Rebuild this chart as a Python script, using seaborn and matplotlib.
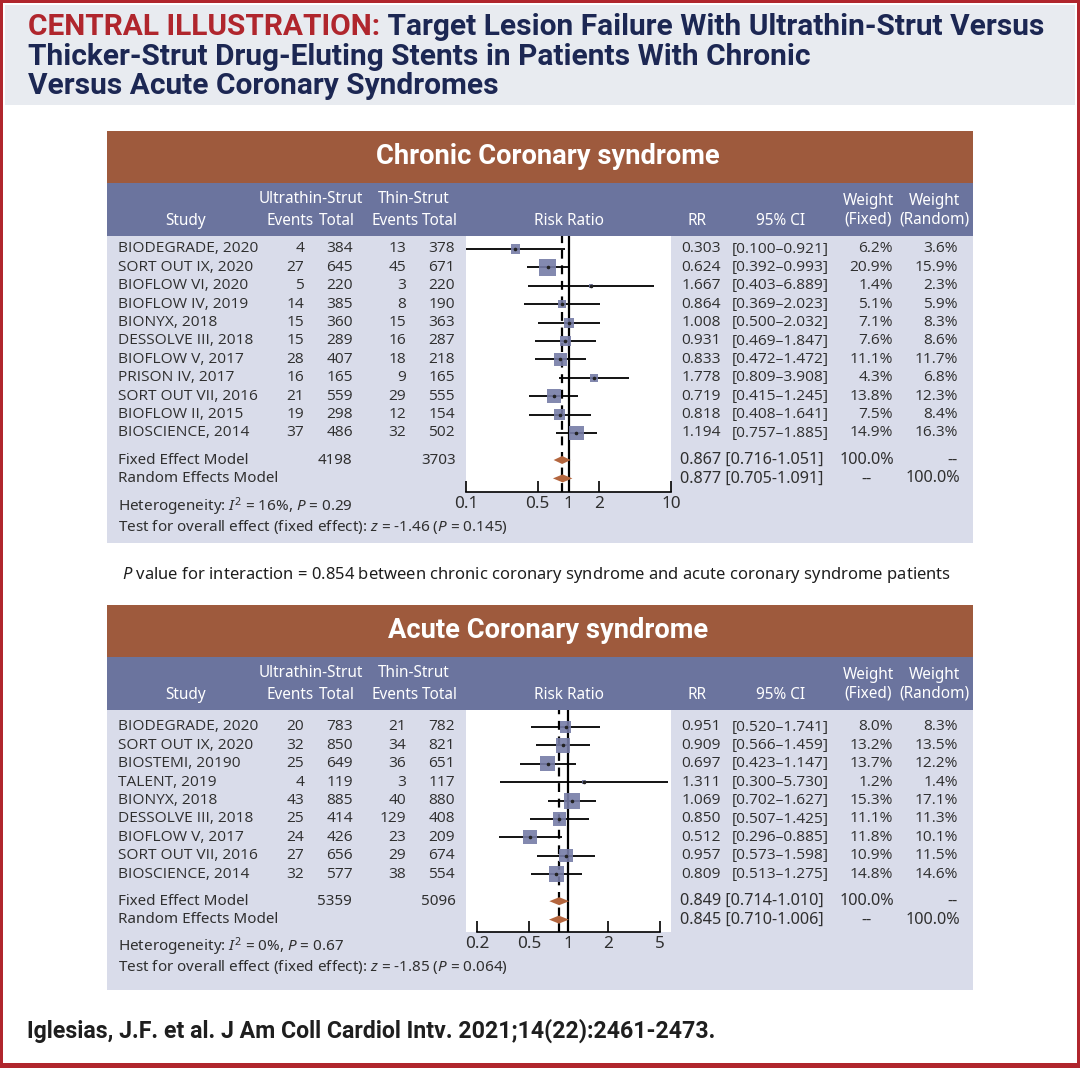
import numpy as np
import pandas as pd
import seaborn as sns
import matplotlib.pyplot as plt
from matplotlib.patches import Rectangle, Polygon
from matplotlib.ticker import NullLocator

# ---- Chronic coronary syndrome data
ccs_study = ['BIODEGRADE, 2020', 'SORT OUT IX, 2020', 'BIOFLOW VI, 2020', 'BIOFLOW IV, 2019',
             'BIONYX, 2018', 'DESSOLVE III, 2018', 'BIOFLOW V, 2017', 'PRISON IV, 2017',
             'SORT OUT VII, 2016', 'BIOFLOW II, 2015', 'BIOSCIENCE, 2014']
ccs_ev_ultra = [4, 27, 5, 14, 15, 15, 28, 16, 21, 19, 37]
ccs_n_ultra = [384, 645, 220, 385, 360, 289, 407, 165, 559, 298, 486]
ccs_ev_thin = [13, 45, 3, 8, 15, 16, 18, 9, 29, 12, 32]
ccs_n_thin = [378, 671, 220, 190, 363, 287, 218, 165, 555, 154, 502]
ccs_rr = [0.303, 0.624, 1.667, 0.864, 1.008, 0.931, 0.833, 1.778, 0.719, 0.818, 1.194]
ccs_lo = [0.100, 0.392, 0.403, 0.369, 0.500, 0.469, 0.472, 0.809, 0.415, 0.408, 0.757]
ccs_hi = [0.921, 0.993, 6.889, 2.023, 2.032, 1.847, 1.472, 3.908, 1.245, 1.641, 1.885]
ccs_w_fixed = [6.2, 20.9, 1.4, 5.1, 7.1, 7.6, 11.1, 4.3, 13.8, 7.5, 14.9]
ccs_w_random = [3.6, 15.9, 2.3, 5.9, 8.3, 8.6, 11.7, 6.8, 12.3, 8.4, 16.3]
ccs_fixed = [0.867, 0.716, 1.051]
ccs_random = [0.877, 0.705, 1.091]
ccs_totals = [4198, 3703]
ccs_ticks = [0.1, 0.5, 1, 2, 10]
ccs_het = r"Heterogeneity: $I^2$ = 16%, $P$ = 0.29"
ccs_test = r"Test for overall effect (fixed effect): $z$ = -1.46 ($P$ = 0.145)"

# ---- Acute coronary syndrome data
acs_study = ['BIODEGRADE, 2020', 'SORT OUT IX, 2020', 'BIOSTEMI, 20190', 'TALENT, 2019',
             'BIONYX, 2018', 'DESSOLVE III, 2018', 'BIOFLOW V, 2017', 'SORT OUT VII, 2016',
             'BIOSCIENCE, 2014']
acs_ev_ultra = [20, 32, 25, 4, 43, 25, 24, 27, 32]
acs_n_ultra = [783, 850, 649, 119, 885, 414, 426, 656, 577]
acs_ev_thin = [21, 34, 36, 3, 40, 129, 23, 29, 38]
acs_n_thin = [782, 821, 651, 117, 880, 408, 209, 674, 554]
acs_rr = [0.951, 0.909, 0.697, 1.311, 1.069, 0.850, 0.512, 0.957, 0.809]
acs_lo = [0.520, 0.566, 0.423, 0.300, 0.702, 0.507, 0.296, 0.573, 0.513]
acs_hi = [1.741, 1.459, 1.147, 5.730, 1.627, 1.425, 0.885, 1.598, 1.275]
acs_w_fixed = [8.0, 13.2, 13.7, 1.2, 15.3, 11.1, 11.8, 10.9, 14.8]
acs_w_random = [8.3, 13.5, 12.2, 1.4, 17.1, 11.3, 10.1, 11.5, 14.6]
acs_fixed = [0.849, 0.714, 1.010]
acs_random = [0.845, 0.710, 1.006]
acs_totals = [5359, 5096]
acs_ticks = [0.2, 0.5, 1, 2, 5]
acs_het = r"Heterogeneity: $I^2$ = 0%, $P$ = 0.67"
acs_test = r"Test for overall effect (fixed effect): $z$ = -1.85 ($P$ = 0.064)"

# colours
RED = '#B0262D'
NAVY = '#1C2753'
BROWN = '#9E5A3D'
BLUE = '#6B749E'
BODY = '#D9DCEA'
TXT = '#2F2F2F'
SQ = '#767CA6'
DIA = '#B4663E'

sns.set_theme(style='white')
plt.rcParams['font.family'] = ['Noto Sans', 'DejaVu Sans']
plt.rcParams['font.stretch'] = 'condensed'
plt.rcParams['mathtext.fontset'] = 'custom'
plt.rcParams['mathtext.rm'] = 'Noto Sans:stretch=condensed'
plt.rcParams['mathtext.it'] = 'Noto Sans:italic:stretch=condensed'
ROWFONT = dict(family=['Open Sans', 'DejaVu Sans'], fontstretch='normal')
BOLD = dict(family=['Roboto', 'DejaVu Sans'], fontstretch='normal', fontweight='bold')

W, H = 1080, 1068
fig = plt.figure(figsize=(W / 100, H / 100), dpi=100)
bg = fig.add_axes([0, 0, 1, 1])
bg.set_xlim(0, W)
bg.set_ylim(H, 0)
bg.axis('off')
renderer = fig.canvas.get_renderer()


def fit(s, target, size=12, **kw):
    # font size that makes the text span the width seen in the reference
    t = bg.text(0, 0, s, fontsize=size, **kw)
    w = t.get_window_extent(renderer).width
    t.remove()
    return size * target / w


def rect(x0, y0, x1, y1, color):
    bg.add_patch(Rectangle((x0, y0), x1 - x0, y1 - y0, color=color, lw=0))


# frame and title band
rect(0, 0, W, 3, RED)
rect(0, 0, 3, H, RED)
rect(W - 3, 0, W, H, RED)
rect(0, H - 5, W, H, RED)
rect(5, 5, W - 5, 105, '#E8EBF0')

title_red = 'CENTRAL ILLUSTRATION:'
title_1 = ' Target Lesion Failure With Ultrathin-Strut Versus'
fs_title = fit(title_red + title_1, 1015, 20, **BOLD)
t1 = bg.text(28, 27, title_red, color=RED, fontsize=fs_title, va='center', ha='left', **BOLD)
x_end = t1.get_window_extent(renderer).x1
bg.text(x_end, 27, title_1, color=NAVY, fontsize=fs_title, va='center', ha='left', **BOLD)
bg.text(28, 57, 'Thicker-Strut Drug-Eluting Stents in Patients With Chronic', color=NAVY,
        fontsize=fs_title, va='center', ha='left', **BOLD)
bg.text(28, 86, 'Versus Acute Coronary Syndromes', color=NAVY,
        fontsize=fs_title, va='center', ha='left', **BOLD)

PX0, PX1 = 107, 973
fs_band = fit('Chronic Coronary syndrome', 343, 20, **BOLD)
fs_head = fit('Ultrathin-Strut', 104)
fs_row = fit('BIODEGRADE, 2020', 140, 10, **ROWFONT)
fs_sum = fit('Fixed Effect Model', 130)
fs_num = fit('0.867 [0.716-1.051]', 145)
fs_test = fit(ccs_test, 390)


def panel(title, top, body_bottom, row0, axis_y, xlim, ticks, bounds,
          study, ev_u, n_u, ev_t, n_t, rr, lo, hi, wf, wr, fixed, random, totals,
          het, test, k):
    blue_top = top + 52
    body_top = blue_top + 53
    rect(PX0, top, PX1, blue_top, BROWN)
    rect(PX0, blue_top, PX1, body_top, BLUE)
    rect(PX0, body_top, PX1, body_bottom, BODY)
    bg.text(548, (top + blue_top) / 2, title, color='white', fontsize=fs_band,
            ha='center', va='center', **BOLD)

    h1, h2 = blue_top + 16, blue_top + 38
    hk = dict(color='white', fontsize=fs_head, va='center', ha='center')
    bg.text(186, h2, 'Study', **hk)
    bg.text(311, h1, 'Ultrathin-Strut', **hk)
    bg.text(290, h2, 'Events', **hk)
    bg.text(337, h2, 'Total', **hk)
    bg.text(414, h1, 'Thin-Strut', **hk)
    bg.text(395, h2, 'Events', **hk)
    bg.text(440, h2, 'Total', **hk)
    bg.text(569, h2, 'Risk Ratio', **hk)
    bg.text(697, h2, 'RR', **hk)
    bg.text(781, h2, '95% CI', **hk)
    bg.text(868, h1 + 2, 'Weight', **hk)
    bg.text(868, h2 - 1, '(Fixed)', **hk)
    bg.text(934, h1 + 2, 'Weight', **hk)
    bg.text(934, h2 - 1, '(Random)', **hk)

    step = 18.4
    n = len(study)
    ys = row0 + step * np.arange(n)
    y_fix = ys[-1] + 27
    y_ran = y_fix + 18.4

    rk = dict(color=TXT, fontsize=fs_row, va='center', **ROWFONT)
    for i in range(n):
        y = ys[i]
        bg.text(118, y, study[i], ha='left', **rk)
        bg.text(304, y, str(ev_u[i]), ha='right', **rk)
        bg.text(353, y, str(n_u[i]), ha='right', **rk)
        bg.text(406, y, str(ev_t[i]), ha='right', **rk)
        bg.text(455, y, str(n_t[i]), ha='right', **rk)
        bg.text(721, y, f'{rr[i]:.3f}', ha='right', **rk)
        bg.text(732, y, f'[{lo[i]:.3f}\u2013{hi[i]:.3f}]', ha='left', **rk)
        bg.text(893, y, f'{wf[i]:.1f}%', ha='right', **rk)
        bg.text(958, y, f'{wr[i]:.1f}%', ha='right', **rk)

    sk = dict(color=TXT, fontsize=fs_sum, va='center')
    bg.text(118, y_fix, 'Fixed Effect Model', ha='left', **sk)
    bg.text(118, y_ran, 'Random Effects Model', ha='left', **sk)
    bg.text(352, y_fix, str(totals[0]), ha='right', **sk)
    bg.text(456, y_fix, str(totals[1]), ha='right', **sk)
    nk = dict(color=TXT, fontsize=fs_num, va='center')
    for y, vals in [(y_fix, fixed), (y_ran, random)]:
        bg.text(680, y, f'{vals[0]:.3f} [{vals[1]:.3f}-{vals[2]:.3f}]', ha='left', **nk)
    bg.text(894, y_fix, '100.0%', ha='right', **nk)
    bg.text(952, y_fix, '--', ha='center', **nk)
    bg.text(866, y_ran, '--', ha='center', **nk)
    bg.text(960, y_ran, '100.0%', ha='right', **nk)

    bg.text(118, axis_y + 15, het, color=TXT, fontsize=fs_test, ha='left', va='center')
    bg.text(118, axis_y + 35, test, color=TXT, fontsize=fs_test, ha='left', va='center')

    # forest plot axes, y measured in pixel rows
    ax = fig.add_axes([466 / W, 1 - axis_y / H, (671 - 466) / W, (axis_y - body_top) / H])
    ax.set_facecolor('white')
    ax.set_xscale('log')
    ax.set_xlim(*xlim)
    ax.set_ylim(axis_y, body_top)
    ax.axvline(1, color='black', lw=1.6, zorder=1)
    ax.axvline(fixed[0], color='black', lw=1.6, ls=(0, (4, 3)), zorder=1)
    ax.hlines(ys, lo, hi, color='black', lw=1.3, zorder=2)
    df = pd.DataFrame({'rr': rr, 'y': ys, 'w': wf})
    sns.scatterplot(data=df, x='rr', y='y', size='w', sizes=(k * min(wf), k * max(wf)),
                    size_norm=(min(wf), max(wf)), marker='s', color=SQ, alpha=0.9,
                    edgecolor='none', legend=False, ax=ax, zorder=3)
    ax.scatter(rr, ys, s=2.5, color='#222222', zorder=4)
    for est, l, h, y in [(fixed[0], fixed[1], fixed[2], y_fix),
                         (random[0], random[1], random[2], y_ran)]:
        ax.add_patch(Polygon([(l, y), (est, y - 4), (h, y), (est, y + 4)],
                             closed=True, color=DIA, lw=0, zorder=3))
    ax.set_xlabel('')
    ax.set_ylabel('')
    ax.set_yticks([])
    ax.xaxis.set_minor_locator(NullLocator())
    ax.set_xticks(ticks)
    ax.set_xticklabels([f'{t:g}' for t in ticks])
    for s in ['top', 'left', 'right']:
        ax.spines[s].set_visible(False)
    ax.spines['bottom'].set_color('black')
    ax.spines['bottom'].set_linewidth(1.2)
    ax.spines['bottom'].set_bounds(*bounds)
    ax.tick_params(axis='x', direction='in', length=8, width=1.2, color='black',
                   labelsize=fs_test * 1.12, labelcolor=TXT, pad=3, bottom=True)
    return ax


panel('Chronic Coronary syndrome', 131, 543, 249, 492, (0.1, 10), ccs_ticks, (0.1, 10),
      ccs_study, ccs_ev_ultra, ccs_n_ultra, ccs_ev_thin, ccs_n_thin, ccs_rr, ccs_lo, ccs_hi,
      ccs_w_fixed, ccs_w_random, ccs_fixed, ccs_random, ccs_totals, ccs_het, ccs_test, 7.5)

pval = ('$P$ value for interaction = 0.854 between chronic coronary syndrome and '
        'acute coronary syndrome patients')
bg.text(122, 575, pval, color='#1E1E1E', fontsize=fit(pval, 829, 13),
        ha='left', va='center')

panel('Acute Coronary syndrome', 605, 990, 727, 932, (1 / 6.06, 6.06), acs_ticks, (0.2, 5),
      acs_study, acs_ev_ultra, acs_n_ultra, acs_ev_thin, acs_n_thin, acs_rr, acs_lo, acs_hi,
      acs_w_fixed, acs_w_random, acs_fixed, acs_random, acs_totals, acs_het, acs_test, 8.5)

cite = 'Iglesias, J.F. et al. J Am Coll Cardiol Intv. 2021;14(22):2461-2473.'
bg.text(27, 1031, cite, color='#1E1E1E', fontsize=fit(cite, 691, 16, **BOLD),
        ha='left', va='center', **BOLD)

fig.savefig('out.png', dpi=100)
